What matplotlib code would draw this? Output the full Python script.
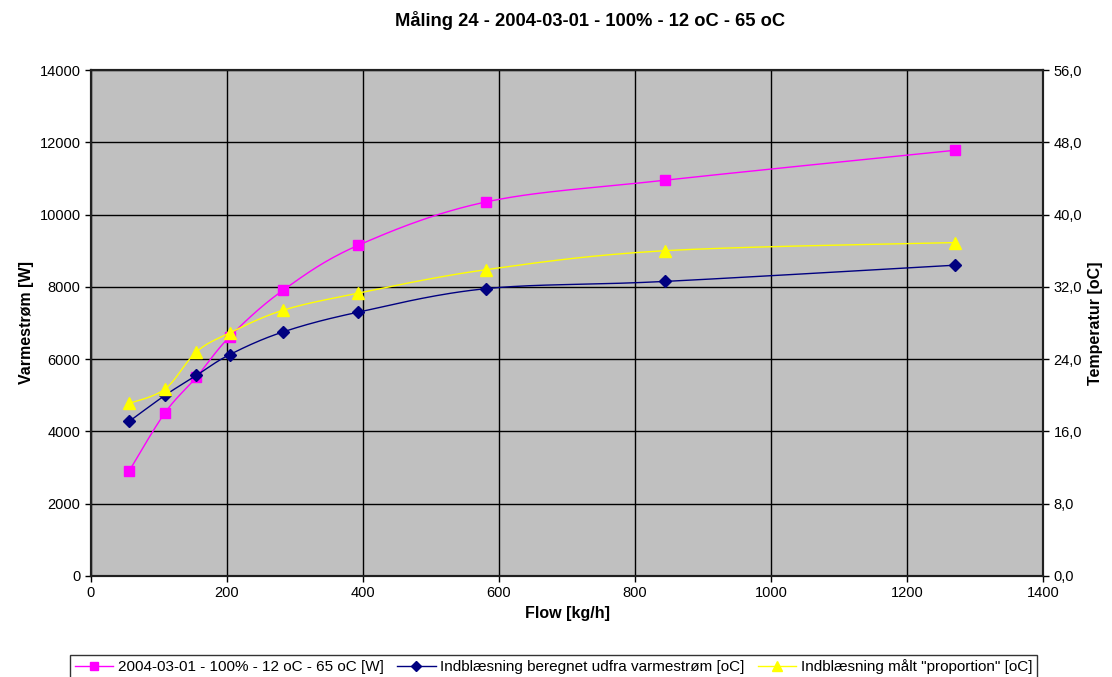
import numpy as np
import matplotlib.pyplot as plt
from matplotlib.ticker import FuncFormatter

plt.rcParams['font.family'] = ['Liberation Sans', 'DejaVu Sans']

flow = [56, 109, 155, 204, 282, 393, 581, 844, 1271]
varme = [2900, 4520, 5500, 6620, 7900, 9150, 10350, 10950, 11780]
beregnet = [17.1, 20.0, 22.2, 24.5, 27.0, 29.2, 31.8, 32.6, 34.4]
maalt = [19.1, 20.7, 24.8, 26.9, 29.4, 31.3, 33.9, 36.0, 36.9]

title = "Måling 24 - 2004-03-01 - 100% - 12 oC - 65 oC"
labels = ["2004-03-01 - 100% - 12 oC - 65 oC [W]",
          "Indblæsning beregnet udfra varmestrøm [oC]",
          'Indblæsning målt "proportion" [oC]']


# Excel-like smoothing: cubic Bezier through points (Catmull-Rom)
def smooth(x, y, n=30):
    x = np.asarray(x, float)
    y = np.asarray(y, float)
    px = np.concatenate([[x[0]], x, [x[-1]]])
    py = np.concatenate([[y[0]], y, [y[-1]]])
    xs, ys = [], []
    t = np.linspace(0, 1, n)
    for i in range(1, len(x)):
        p0 = np.array([px[i], py[i]])
        p3 = np.array([px[i + 1], py[i + 1]])
        c1 = p0 + (np.array([px[i + 1], py[i + 1]]) - np.array([px[i - 1], py[i - 1]])) / 6
        c2 = p3 - (np.array([px[i + 2], py[i + 2]]) - np.array([px[i], py[i]])) / 6
        b = (np.outer((1 - t) ** 3, p0) + np.outer(3 * (1 - t) ** 2 * t, c1)
             + np.outer(3 * (1 - t) * t ** 2, c2) + np.outer(t ** 3, p3))
        xs.extend(b[:, 0])
        ys.extend(b[:, 1])
    return xs, ys


fig = plt.figure(figsize=(11.12, 6.77), dpi=100, facecolor='w')
ax = fig.add_axes([0.0818, 0.1492, 0.938 - 0.0818, 0.8966 - 0.1492])
ax.set_facecolor('#c0c0c0')
ax2 = ax.twinx()

sx, sy = smooth(flow, varme)
l1, = ax.plot(sx, sy, color='#ff00ff', lw=1)
ax.plot(flow, varme, ls='none', marker='s', ms=7, color='#ff00ff')

sx, sy = smooth(flow, beregnet)
l2, = ax2.plot(sx, sy, color='#000080', lw=1)
ax2.plot(flow, beregnet, ls='none', marker='D', ms=6, color='#000080')

sx, sy = smooth(flow, maalt)
l3, = ax2.plot(sx, sy, color='#ffff00', lw=1)
ax2.plot(flow, maalt, ls='none', marker='^', ms=8, color='#ffff00')

ax.set_xlim(0, 1400)
ax.set_ylim(0, 14000)
ax2.set_ylim(0, 56)
ax.set_xticks(np.arange(0, 1401, 200))
ax.set_yticks(np.arange(0, 14001, 2000))
ax2.set_yticks(np.arange(0, 57, 8))
ax2.yaxis.set_major_formatter(FuncFormatter(lambda v, p: f"{v:.1f}".replace('.', ',')))

ax.grid(True, color='black', lw=1)
ax.set_axisbelow(True)
for a in (ax, ax2):
    a.tick_params(labelsize=10.5, direction='out', length=4, width=1)
    for s in a.spines.values():
        s.set_color('#202020')
        s.set_linewidth(1.5)

ax.set_xlabel("Flow [kg/h]", fontsize=11.5, fontweight='bold')
ax.set_ylabel("Varmestrøm [W]", fontsize=11.5, fontweight='bold')
ax2.set_ylabel("Temperatur [oC]", fontsize=11.5, fontweight='bold')
fig.text(0.531, 0.97, title, ha='center', va='center', fontsize=13.2, fontweight='bold')

leg = fig.legend([(l1), (l2), (l3)], labels, loc='lower center',
                 bbox_to_anchor=(0.498, -0.014), ncol=3, fontsize=11,
                 frameon=True, fancybox=False, borderpad=0.3,
                 handlelength=2.5, handletextpad=0.3, columnspacing=0.9)
leg.get_frame().set_edgecolor('black')
leg.get_frame().set_linewidth(1)
# add markers to legend handles
for h, m, ms in zip(leg.legend_handles, ['s', 'D', '^'], [6, 5, 7]):
    h.set_marker(m)
    h.set_markersize(ms)

fig.savefig('out.png', dpi=100)
